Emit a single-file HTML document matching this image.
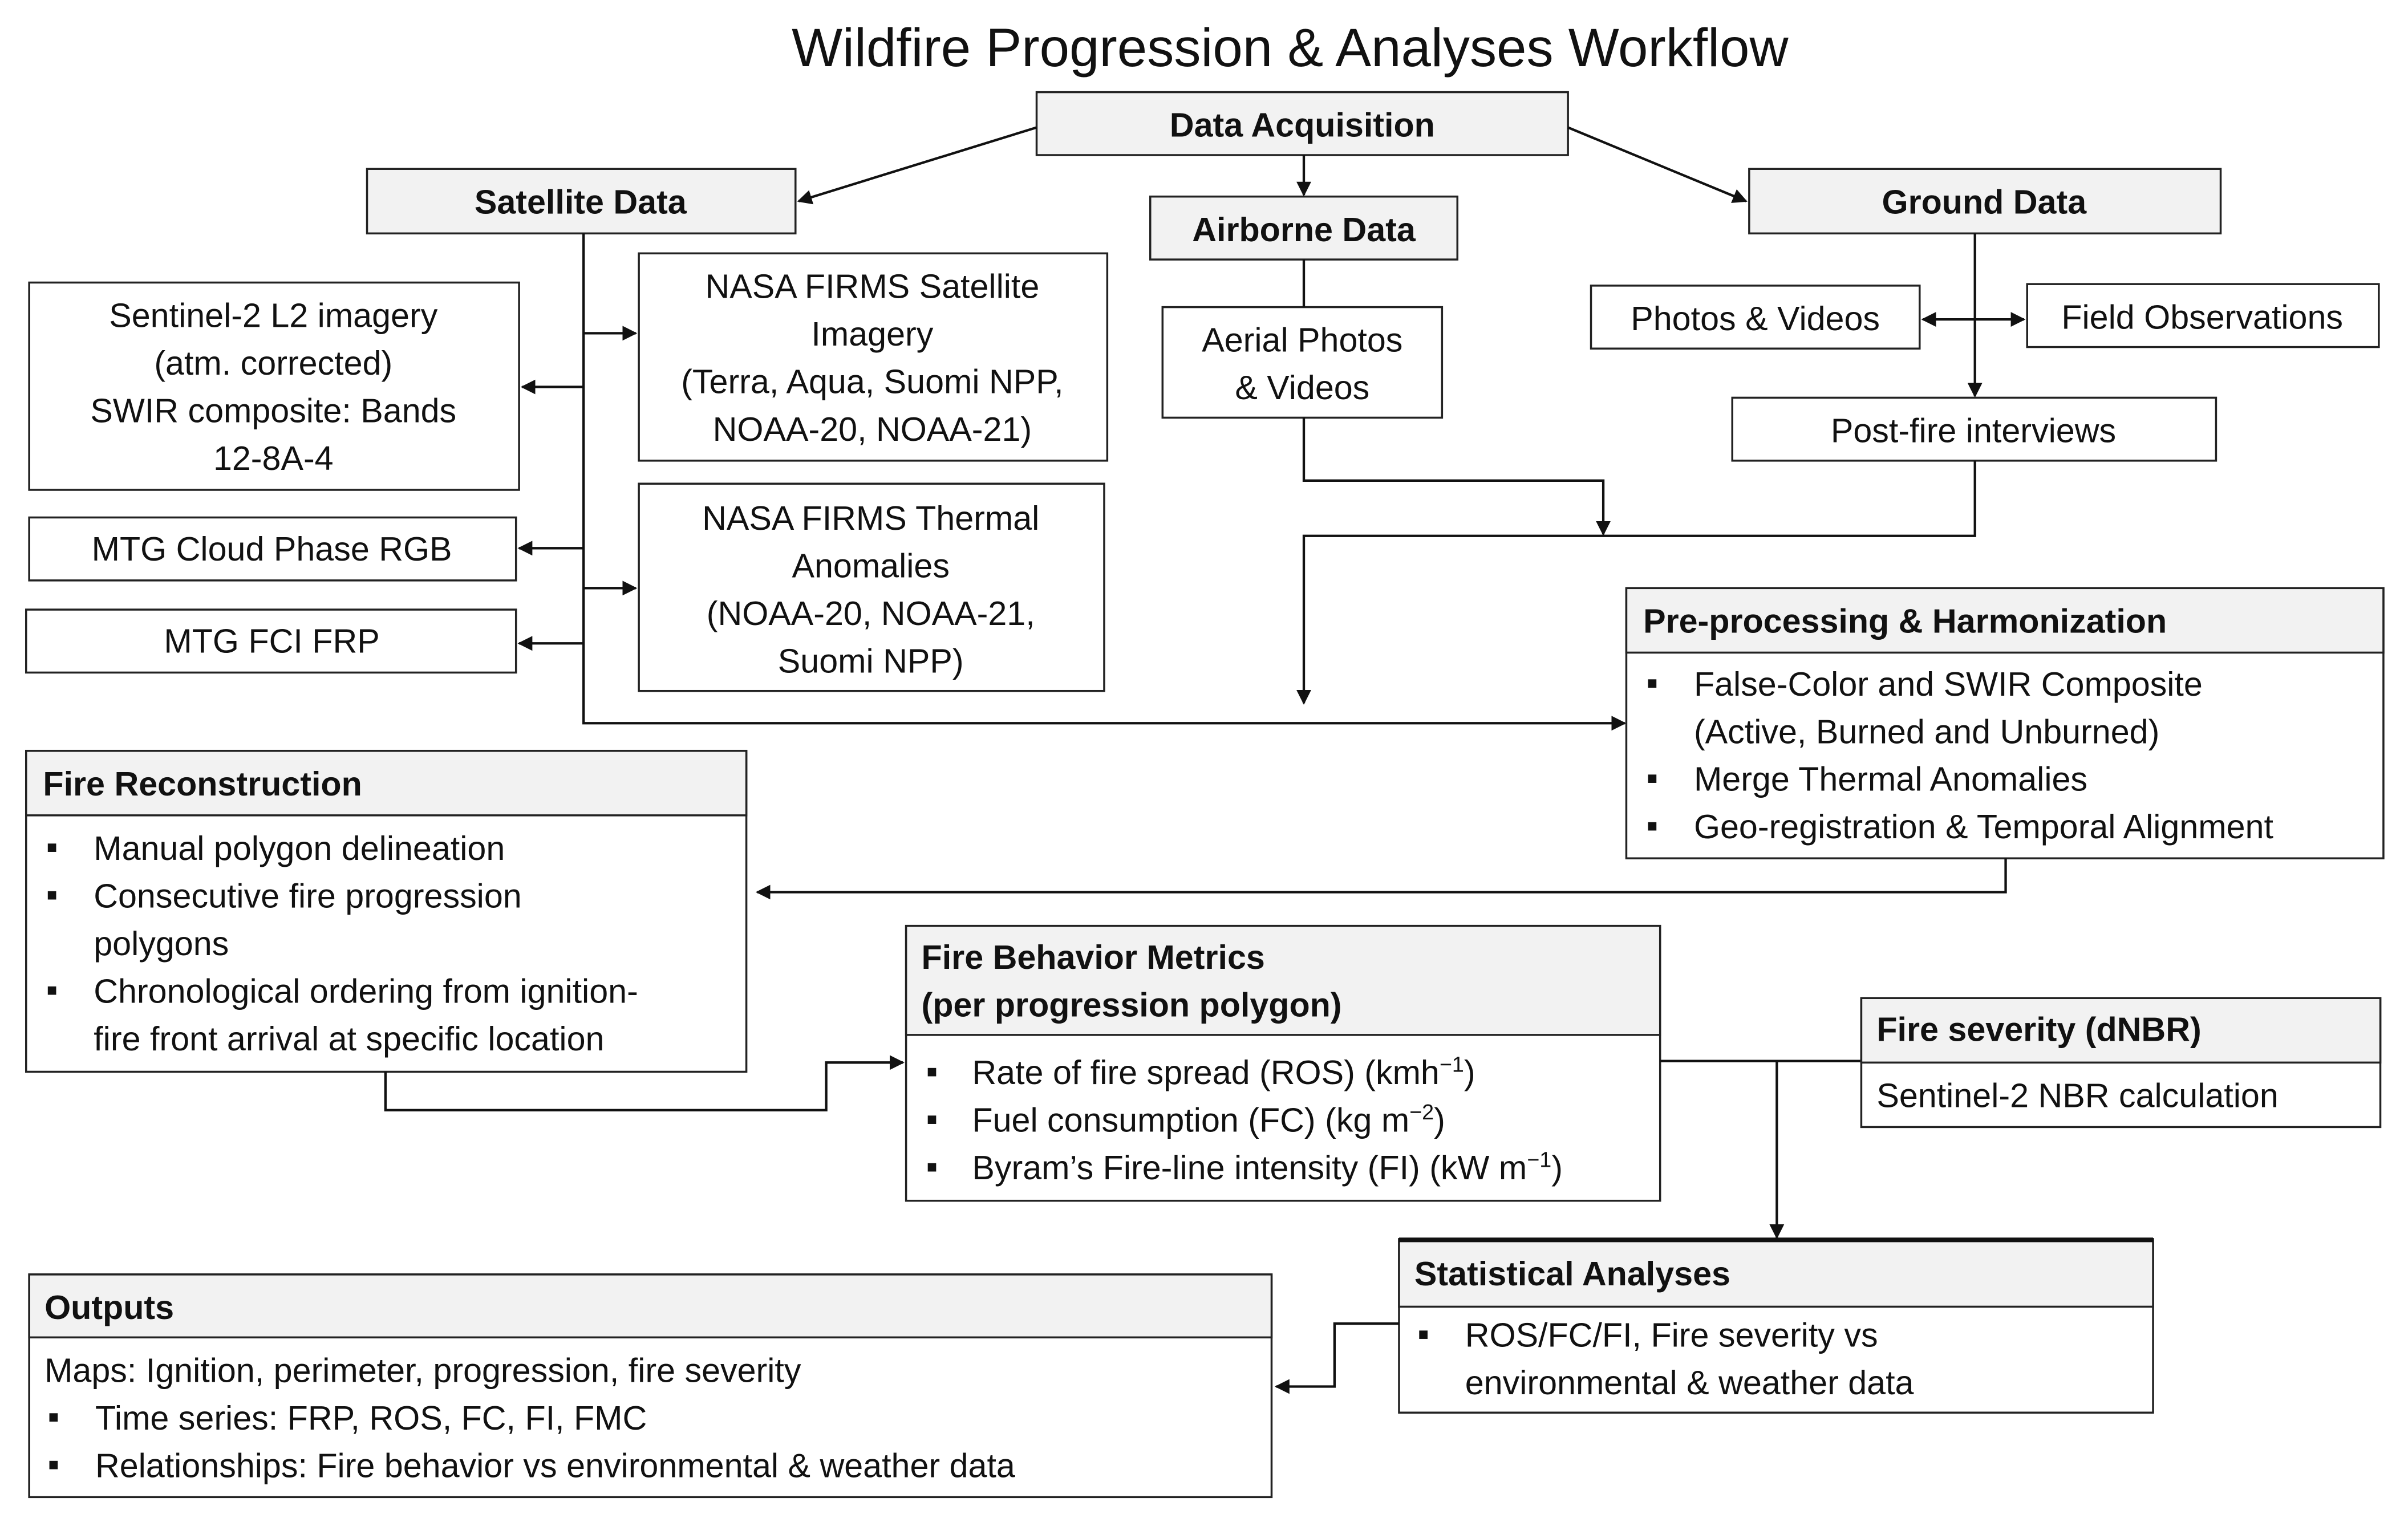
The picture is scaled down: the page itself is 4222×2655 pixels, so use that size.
<!DOCTYPE html>
<html><head><meta charset="utf-8"><style>
html,body{margin:0;padding:0;background:#fff;width:4222px;height:2655px;overflow:hidden}
svg{display:block}
text{font-family:"Liberation Sans",sans-serif;font-size:22px;fill:#111}
.b{font-weight:bold}
.c{text-anchor:middle}
.box{fill:#fff;stroke:#222;stroke-width:1.3}
.hd{fill:#f2f2f2;stroke:#222;stroke-width:1.3}
.ln{fill:none;stroke:#111;stroke-width:1.6}
</style></head><body>
<svg width="4222" height="2655" viewBox="0 0 1568 986" xmlns="http://www.w3.org/2000/svg">
<defs><marker id="a" viewBox="0 0 10 10" refX="9" refY="5" markerWidth="6" markerHeight="6" orient="auto-start-reverse"><path d="M0,0L10,5L0,10z" fill="#111"/></marker></defs>
<rect width="1568" height="986" fill="#fff"/>
<text x="840" y="43" class="c" style="font-size:35px">Wildfire Progression &amp; Analyses Workflow</text>

<!-- top row -->
<rect class="hd" x="675" y="60" width="346" height="41"/>
<text x="848" y="89" class="c b">Data Acquisition</text>
<rect class="hd" x="239" y="110" width="279" height="42"/>
<text x="378" y="139" class="c b">Satellite Data</text>
<rect class="hd" x="749" y="128" width="200" height="41"/>
<text x="849" y="157" class="c b">Airborne Data</text>
<rect class="hd" x="1139" y="110" width="307" height="42"/>
<text x="1292" y="139" class="c b">Ground Data</text>
<path class="ln" d="M675,83L520,131" marker-end="url(#a)"/>
<path class="ln" d="M849,101V127" marker-end="url(#a)"/>
<path class="ln" d="M1021,83L1137,131" marker-end="url(#a)"/>

<!-- satellite branch -->
<rect class="box" x="19" y="184" width="319" height="135"/>
<text x="178" y="213" class="c">Sentinel-2 L2 imagery</text>
<text x="178" y="244" class="c">(atm. corrected)</text>
<text x="178" y="275" class="c">SWIR composite: Bands</text>
<text x="178" y="306" class="c">12-8A-4</text>
<rect class="box" x="416" y="165" width="305" height="135"/>
<text x="568" y="194" class="c">NASA FIRMS Satellite</text>
<text x="568" y="225" class="c">Imagery</text>
<text x="568" y="256" class="c">(Terra, Aqua, Suomi NPP,</text>
<text x="568" y="287" class="c">NOAA-20, NOAA-21)</text>
<rect class="box" x="19" y="337" width="317" height="41"/>
<text x="177" y="365" class="c">MTG Cloud Phase RGB</text>
<rect class="box" x="416" y="315" width="303" height="135"/>
<text x="567" y="345" class="c">NASA FIRMS Thermal</text>
<text x="567" y="376" class="c">Anomalies</text>
<text x="567" y="407" class="c">(NOAA-20, NOAA-21,</text>
<text x="567" y="438" class="c">Suomi NPP)</text>
<rect class="box" x="17" y="397" width="319" height="41"/>
<text x="177" y="425" class="c">MTG FCI FRP</text>
<path class="ln" d="M380,152V471H1058" marker-end="url(#a)"/>
<path class="ln" d="M380,217H414" marker-end="url(#a)"/>
<path class="ln" d="M380,252H340" marker-end="url(#a)"/>
<path class="ln" d="M380,357H338" marker-end="url(#a)"/>
<path class="ln" d="M380,383H414" marker-end="url(#a)"/>
<path class="ln" d="M380,419H338" marker-end="url(#a)"/>

<!-- airborne -->
<rect class="box" x="757" y="200" width="182" height="72"/>
<text x="848" y="229" class="c">Aerial Photos</text>
<text x="848" y="260" class="c">&amp; Videos</text>
<path class="ln" d="M849,169V200"/>
<path class="ln" d="M849,272V313H1044V348" marker-end="url(#a)"/>

<!-- ground -->
<rect class="box" x="1036" y="186" width="214" height="41"/>
<text x="1143" y="215" class="c">Photos &amp; Videos</text>
<rect class="box" x="1320" y="185" width="229" height="41"/>
<text x="1434" y="214" class="c">Field Observations</text>
<path class="ln" d="M1252,208H1318" marker-start="url(#a)" marker-end="url(#a)"/>
<path class="ln" d="M1286,152V258" marker-end="url(#a)"/>
<rect class="box" x="1128" y="259" width="315" height="41"/>
<text x="1285" y="288" class="c">Post-fire interviews</text>
<path class="ln" d="M1286,300V349H849V458" marker-end="url(#a)"/>

<!-- pre-processing -->
<rect class="box" x="1059" y="383" width="493" height="176"/>
<rect class="hd" x="1059" y="383" width="493" height="42"/>
<text x="1070" y="412" class="b">Pre-processing &amp; Harmonization</text>
<text x="1072" y="452">▪</text><text x="1103" y="453">False-Color and SWIR Composite</text>
<text x="1103" y="484">(Active, Burned and Unburned)</text>
<text x="1072" y="514">▪</text><text x="1103" y="515">Merge Thermal Anomalies</text>
<text x="1072" y="545">▪</text><text x="1103" y="546">Geo-registration &amp; Temporal Alignment</text>
<path class="ln" d="M1306,559V581H493" marker-end="url(#a)"/>

<!-- fire reconstruction -->
<rect class="box" x="17" y="489" width="469" height="209"/>
<rect class="hd" x="17" y="489" width="469" height="42"/>
<text x="28" y="518" class="b">Fire Reconstruction</text>
<text x="30" y="559">▪</text><text x="61" y="560">Manual polygon delineation</text>
<text x="30" y="590">▪</text><text x="61" y="591">Consecutive fire progression</text>
<text x="61" y="622">polygons</text>
<text x="30" y="652">▪</text><text x="61" y="653">Chronological ordering from ignition-</text>
<text x="61" y="684">fire front arrival at specific location</text>
<path class="ln" d="M251,698V723H538V692H588" marker-end="url(#a)"/>

<!-- fire behavior -->
<rect class="box" x="590" y="603" width="491" height="179"/>
<rect class="hd" x="590" y="603" width="491" height="71"/>
<text x="600" y="631" class="b">Fire Behavior Metrics</text>
<text x="600" y="662" class="b">(per progression polygon)</text>
<text x="603" y="705">▪</text><text x="633" y="706">Rate of fire spread (ROS) (kmh<tspan dy="-8" style="font-size:14px">−1</tspan><tspan dy="8">)</tspan></text>
<text x="603" y="736">▪</text><text x="633" y="737">Fuel consumption (FC) (kg m<tspan dy="-8" style="font-size:14px">−2</tspan><tspan dy="8">)</tspan></text>
<text x="603" y="767">▪</text><text x="633" y="768">Byram’s Fire-line intensity (FI) (kW m<tspan dy="-8" style="font-size:14px">−1</tspan><tspan dy="8">)</tspan></text>
<path class="ln" d="M1081,691H1212"/>
<path class="ln" d="M1157,691V806" marker-end="url(#a)"/>

<!-- fire severity -->
<rect class="box" x="1212" y="650" width="338" height="84"/>
<rect class="hd" x="1212" y="650" width="338" height="42"/>
<text x="1222" y="678" class="b">Fire severity (dNBR)</text>
<text x="1222" y="721">Sentinel-2 NBR calculation</text>

<!-- statistical -->
<rect class="box" x="911" y="807" width="491" height="113"/>
<rect class="hd" x="911" y="807" width="491" height="44"/>
<line x1="911" y1="807.5" x2="1402" y2="807.5" stroke="#111" stroke-width="3"/>
<text x="921" y="837" class="b">Statistical Analyses</text>
<text x="923" y="876">▪</text><text x="954" y="877">ROS/FC/FI, Fire severity vs</text>
<text x="954" y="908">environmental &amp; weather data</text>
<path class="ln" d="M911,862H869V903H831" marker-end="url(#a)"/>

<!-- outputs -->
<rect class="box" x="19" y="830" width="809" height="145"/>
<rect class="hd" x="19" y="830" width="809" height="41"/>
<text x="29" y="859" class="b">Outputs</text>
<text x="29" y="900">Maps: Ignition, perimeter, progression, fire severity</text>
<text x="31" y="930">▪</text><text x="62" y="931">Time series: FRP, ROS, FC, FI, FMC</text>
<text x="31" y="961">▪</text><text x="62" y="962">Relationships: Fire behavior vs environmental &amp; weather data</text>
</svg>
</body></html>
